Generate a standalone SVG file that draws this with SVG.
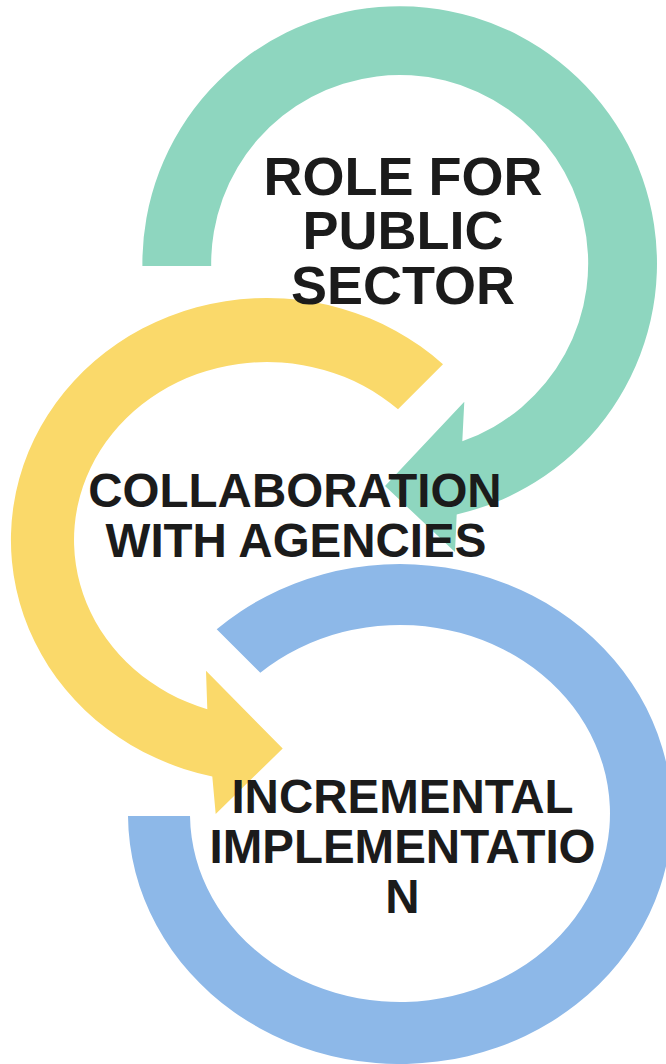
<svg xmlns="http://www.w3.org/2000/svg" width="666" height="1064" viewBox="0 0 666 1064">
  <style>
    .label { font-family: "Liberation Sans", Arial, Helvetica, sans-serif; font-weight: bold; fill: #1b1b1b; text-anchor: middle; }
    .l1 { font-size: 54px; }
    .l2 { font-size: 47.5px; }
    .green { fill: #8ed6bf; }
    .yellow { fill: #fad96a; }
    .blue { fill: #8db8e8; }
  </style>
  <rect width="666" height="1064" fill="#ffffff"/>

  <!-- circular arrow stages -->
  <g id="node-role-for-public-sector">
    <path class="green" d="M 142.4 266 A 257.3 257.3 0 1 1 456.7 514.4 L 455 552 L 385 486 L 464.3 401.7 L 462.3 441.3 A 188.5 188.5 0 1 0 211.2 266 Z"/>
  </g>
  <g id="node-collaboration-with-agencies">
    <path class="yellow" d="M 443 364.3 A 256 242 0 1 0 212.3 776.4 L 215.7 814 L 282.7 748.5 L 206 670.7 L 207.3 709.3 A 193 178 0 1 1 398 409.3 Z"/>
  </g>
  <g id="node-incremental-implementation">
    <path class="blue" d="M 128 816 A 272 250 0 1 0 216.7 629.3 L 260.3 672.7 A 210 188.5 0 1 1 190 816 Z"/>
  </g>
  <g id="connectors"/>

  <!-- stage labels, drawn above every ring -->
  <g id="labels">
    <text class="label l1" x="403" y="194.5">ROLE FOR</text>
    <text class="label l1" x="403" y="249">PUBLIC</text>
    <text class="label l1" x="403" y="303.5">SECTOR</text>

    <text class="label l2" x="295" y="506.5">COLLABORATION</text>
    <text class="label l2" x="296" y="556.5">WITH AGENCIES</text>

    <text class="label l2" x="402.5" y="813">INCREMENTAL</text>
    <text class="label l2" x="402.5" y="863">IMPLEMENTATIO</text>
    <text class="label l2" x="402.5" y="913">N</text>
  </g>
</svg>
